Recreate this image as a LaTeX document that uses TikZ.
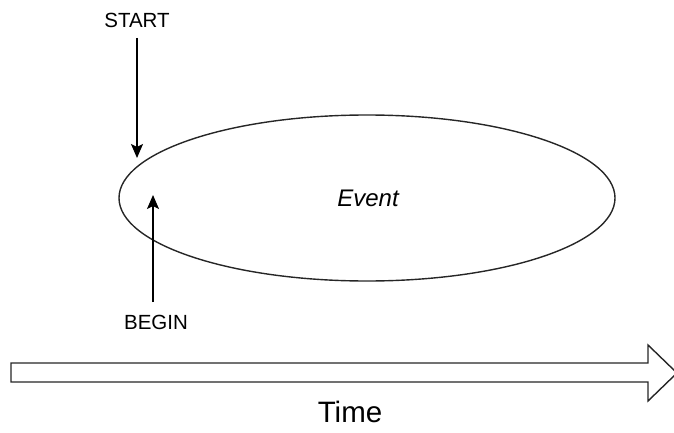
\documentclass[tikz,border=0pt]{standalone}
\usepackage{fontspec}
\setmainfont{Liberation Sans}
\usetikzlibrary{arrows.meta,shapes.geometric}
\begin{document}
\begin{tikzpicture}[x=1pt,y=1pt,
  label/.style={inner sep=0pt, font=\fontsize{20.5}{24}\selectfont},
  pointer/.style={line width=1.4pt, -{Stealth[length=14pt,width=12pt,inset=3pt]}},
  outline/.style={line width=1.4pt, draw=black!85}]
\useasboundingbox (0,0) rectangle (674,432);

% the event itself
\node[outline, ellipse, minimum width=496pt, minimum height=166pt, inner sep=0pt]
  (event) at (367,234) {};
\node[label, font=\fontsize{24}{28}\selectfont\itshape] (eventtext) at (368,234) {Event};

% start marker from above
\node[label] (start) at (137,412) {START};
\coordinate (starttip) at (137,274);
\coordinate (startfoot) at (137,394);
\draw[pointer] (startfoot) -- (starttip);

% begin marker from below
\node[label] (begin) at (156,110) {BEGIN};
\coordinate (beginfoot) at (153,130);
\coordinate (begintip) at (153,237);
\draw[pointer] (beginfoot) -- (begintip);

% time axis as a block arrow
\draw[outline, fill=white] (11,69) coordinate (t0) -- (648,69) -- (648,87) -- (677,59)
  -- (648,31) -- (648,50) -- (11,50) -- cycle;
\node[label, font=\fontsize{29.5}{34}\selectfont] (time) at (350,20) {Time};
\end{tikzpicture}
\end{document}
